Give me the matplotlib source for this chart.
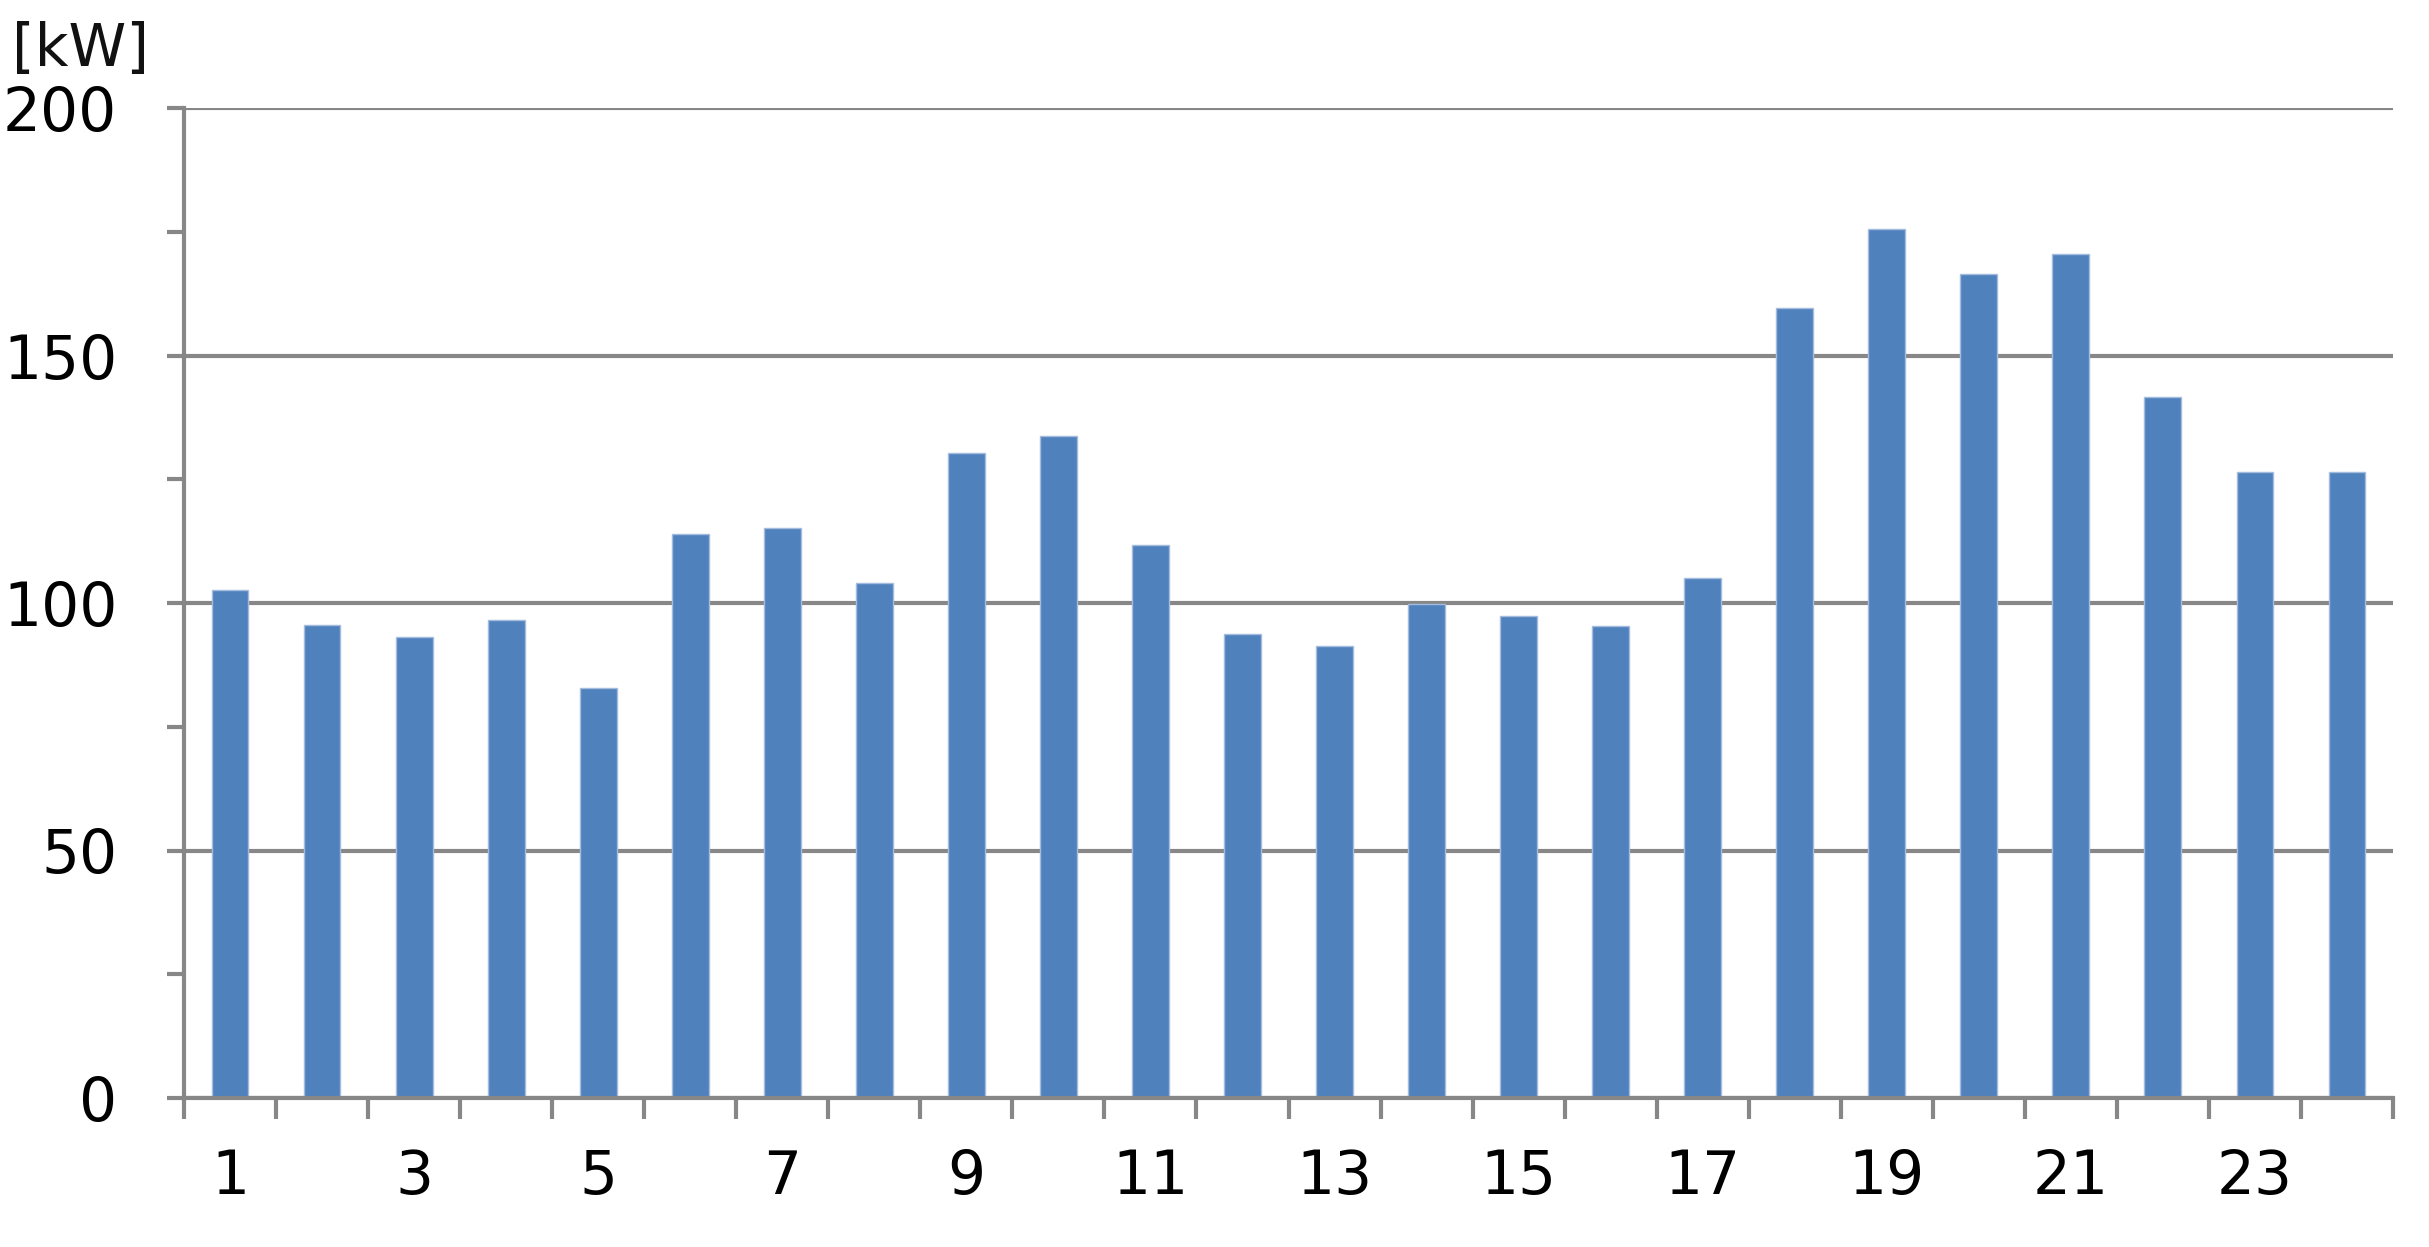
import matplotlib
matplotlib.use("Agg")
import matplotlib.pyplot as plt
import numpy as np

hours = list(range(1, 25))
power_kw = [102.6, 95.5, 93.1, 96.5, 82.9, 114.0, 115.2, 104.0, 130.4, 133.8,
            111.7, 93.8, 91.3, 99.8, 97.3, 95.4, 105.1, 159.5, 175.6, 166.5,
            170.6, 141.6, 126.4, 126.4]
xtick_labels = [str(h) for h in hours[::2]]
ytick_labels = ["0", "50", "100", "150", "200"]

DPI = 100
fig = plt.figure(figsize=(24.29, 12.47), dpi=DPI)
ax = fig.add_axes([184/2429, 1 - 1098/1247, (2393-184)/2429, (1098-108)/1247])

grey = "#878787"
LW = 3.0
FS = 43
ax.bar(hours, power_kw, width=0.40, color="#4F81BD", edgecolor="#A3BCDD",
       linewidth=1.0, zorder=3)

ax.set_xlim(0.5, 24.5)
ax.set_ylim(0, 200)

# y axis
ax.set_yticks([0, 50, 100, 150, 200])
ax.set_yticklabels(ytick_labels)
ax.set_yticks([25, 75, 125, 175], minor=True)
ax.yaxis.grid(True, which="major", color=grey, linewidth=LW, zorder=1)
ax.tick_params(axis="y", which="both", direction="out", length=12, width=LW,
               color=grey, labelsize=FS, pad=36)

# x axis: ticks between categories, labels every other category
ax.set_xticks(np.arange(0.5, 25.0, 1.0), minor=True)
ax.set_xticks(hours[::2])
ax.set_xticklabels(xtick_labels)
ax.tick_params(axis="x", which="major", length=0, labelsize=FS, pad=36)
ax.tick_params(axis="x", which="minor", direction="out", length=15, width=LW,
               color=grey)

for side in ["top", "right"]:
    ax.spines[side].set_visible(False)
for side in ["left", "bottom"]:
    ax.spines[side].set_color(grey)
    ax.spines[side].set_linewidth(LW)
    ax.spines[side].set_zorder(4)

fig.text(12/2429, 1 - 78/1247, "[kW]", fontsize=42, ha="left", va="bottom",
         color="#111111")

fig.savefig("out.png", dpi=DPI, facecolor="white")
